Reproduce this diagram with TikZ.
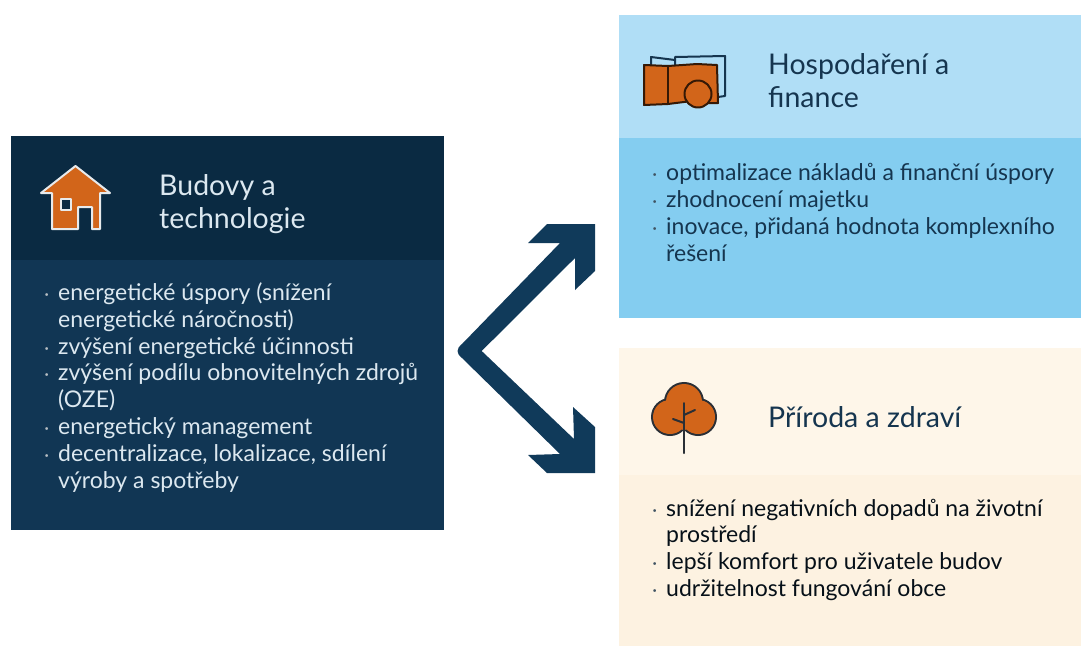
\documentclass[tikz,border=0pt]{standalone}
\usepackage{fontspec}
\setmainfont{Lato}
\definecolor{navyhead}{HTML}{0A2A42}
\definecolor{navybody}{HTML}{113654}
\definecolor{skyhead}{HTML}{B0DEF6}
\definecolor{skybody}{HTML}{84CDF0}
\definecolor{creamhead}{HTML}{FEF6E9}
\definecolor{creambody}{HTML}{FDF2E1}
\definecolor{arrowblue}{HTML}{103A5A}
\definecolor{rust}{HTML}{D2651A}
\definecolor{darkline}{HTML}{2A2F36}
\definecolor{inktext}{HTML}{15354F}
\definecolor{lighttext}{HTML}{DCE8F0}
\newcommand{\bul}[1]{\llap{\textcolor{#1!60!gray}{\scalebox{0.8}{\textperiodcentered}}\hspace{9pt}}}
\tikzset{
  x=1pt,y=-1pt,
  title/.style={anchor=base west,inner sep=0pt,font=\fontsize{28.5}{33}\selectfont,align=left},
  items/.style={anchor=base west,inner sep=0pt,font=\fontsize{23}{26.8}\selectfont,align=left},
  iconstroke/.style={line width=2pt,line join=round},
}
\begin{document}
\begin{tikzpicture}
\useasboundingbox (0,0) rectangle (1081,646);
\fill[white] (0,0) rectangle (1081,646);
% panels
\fill[navyhead] (11,136) rectangle (444,260);
\fill[navybody] (11,260) rectangle (444,530);
\fill[skyhead] (619,15) rectangle (1081,138);
\fill[skybody] (619,138) rectangle (1081,318);
\fill[creamhead] (619,348) rectangle (1081,475);
\fill[creambody] (619,475) rectangle (1081,646);
% arrow
\fill[arrowblue]
  (528,243) -- (547,224) -- (595,224) -- (595,271) -- (575,290) -- (575,258)
  -- (481.7,351) -- (574,439) -- (573,407) -- (595,427) -- (595,473) -- (547,473)
  -- (528,455) -- (560,454) -- (462,358) .. controls (456,353) and (456,349) .. (462,344) -- (560,243) -- cycle;
% house icon
\draw[white!90!navyhead,iconstroke,fill=rust]
  (41,193) -- (75.5,166) -- (110,193) -- (100,193) -- (100,229) -- (92,229) -- (92,207) -- (78,207) -- (78,229) -- (52,229) -- (52,193) -- cycle;
\draw[white!90!navyhead,iconstroke,fill=navyhead] (61,199) rectangle (71,210);
% finance icon
\draw[inktext,iconstroke] (651,65) -- (651,57) -- (675,60);
\draw[inktext,iconstroke] (675,65) -- (675,57) -- (725,56) -- (725,96) -- (718,97);
\draw[black!75!rust,iconstroke,fill=rust]
  (644,65) -- (668,66) -- (697,64) -- (717,65) -- (718,103) -- (708,103) -- (700,100) -- (668,104) -- (644,105) -- cycle;
\draw[black!75!rust,iconstroke] (668,66) -- (668,104);
\draw[black!75!rust,iconstroke,fill=rust] (698,94) circle (13.5);
% tree icon
\draw[darkline,line width=4pt] (684,402) circle (18) (670,417) circle (17) (698,417) circle (17);
\fill[rust] (684,402) circle (18) (670,417) circle (17) (698,417) circle (17) (684,420) circle (10);
\draw[darkline,line width=2pt,line cap=round] (684,403) -- (684,453);
\draw[darkline,line width=2pt,line cap=round] (684,415) -- (695,410);
\draw[darkline,line width=2pt,line cap=round] (684,423) -- (673,419);
% titles
\node[title,text=lighttext] (t1) at (159,228) {Budovy a\\technologie};
\node[title,text=inktext] (t2) at (768,107) {Hospodaření a\\finance};
\node[title,text=inktext] (t3) at (768,427) {Příroda a zdraví};
% items
\node[items,text=lighttext] (b1) at (58,488) {%
\bul{lighttext}energetické úspory (snížení\\
energetické náročnosti)\\
\bul{lighttext}zvýšení energetické účinnosti\\
\bul{lighttext}zvýšení podílu obnovitelných zdrojů\\
(OZE)\\
\bul{lighttext}energetický management\\
\bul{lighttext}decentralizace, lokalizace, sdílení\\
výroby a spotřeby};
\node[items,text=inktext] (b2) at (666,261) {%
\bul{inktext}optimalizace nákladů a finanční úspory\\
\bul{inktext}zhodnocení majetku\\
\bul{inktext}inovace, přidaná hodnota komplexního\\
řešení};
\node[items,text=black!70!inktext] (b3) at (666,596.5) {%
\bul{inktext}snížení negativních dopadů na životní\\
prostředí\\
\bul{inktext}lepší komfort pro uživatele budov\\
\bul{inktext}udržitelnost fungování obce};
\end{tikzpicture}
\end{document}
